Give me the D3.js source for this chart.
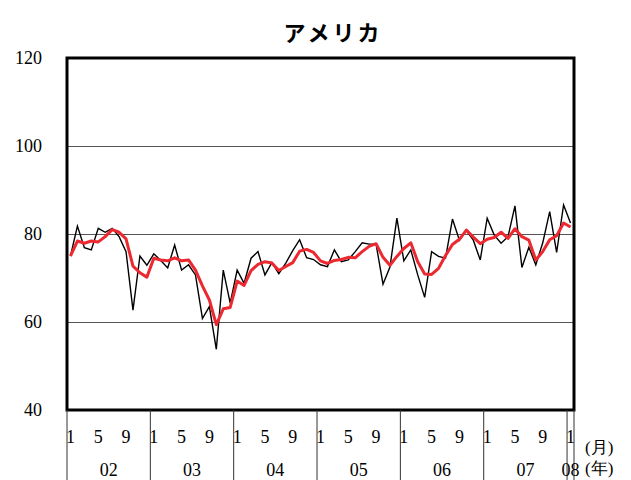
<!DOCTYPE html>
<html>
<head>
<meta charset="utf-8">
<script src="https://cdn.jsdelivr.net/npm/d3@7"></script>
<style>
  body { margin: 0; background: #fff; }
  svg { display: block; }
  .serif { font-family: "Liberation Serif", "DejaVu Serif", serif; }
</style>
</head>
<body>
<svg width="631" height="480"></svg>
<script>
// monthly index, Jan 2002 - Jan 2008
var years = ['02', '03', '04', '05', '06', '07', '08'];
var monthTicks = [1, 5, 9];
var yTicks = [40, 60, 80, 100, 120];

var monthly = [
  75.0, 81.8, 76.9, 76.4, 81.3, 80.4, 81.3, 79.4, 76.0, 62.7, 75.0, 72.9,
  75.5, 74.0, 72.3, 77.5, 71.8, 73.0, 70.7, 60.8, 63.5, 53.8, 71.8, 64.3,
  71.8, 68.8, 74.5, 76.0, 70.7, 73.5, 71.0, 73.4, 76.2, 78.7, 74.6, 74.2,
  73.0, 72.6, 76.4, 73.7, 74.1, 76.0, 78.0, 77.7, 77.7, 68.6, 72.5, 83.6,
  73.9, 76.4, 70.7, 65.6, 76.0, 74.9, 74.5, 83.4, 78.6, 80.8, 78.6, 74.1,
  83.6, 79.8, 77.9, 79.4, 86.4, 72.4, 77.0, 73.0, 78.0, 85.1, 75.8, 86.6,
  82.5
];

// 3 month average (red)
var avg3 = [
  75.0, 78.4, 77.9, 78.4, 78.2, 79.4, 81.0, 80.4, 78.9, 72.7, 71.2, 70.2,
  74.5, 74.1, 73.9, 74.6, 73.9, 74.1, 71.8, 68.2, 65.0, 59.4, 63.0, 63.3,
  69.3, 68.3, 71.7, 73.1, 73.7, 73.4, 71.7, 72.6, 73.5, 76.1, 76.5, 75.8,
  73.9, 73.3, 74.0, 74.2, 74.7, 74.6, 76.0, 77.2, 77.8, 74.7, 72.9, 74.9,
  76.7, 78.0, 73.7, 70.9, 70.8, 72.2, 75.1, 77.6, 78.8, 80.9, 79.3, 77.8,
  78.8, 79.2, 80.4, 79.0, 81.2, 79.4, 78.6, 74.1, 76.0, 78.7, 79.6, 82.5,
  81.6
];

var svg = d3.select('svg');
var plotL = 67, plotR = 574, plotT = 58, plotB = 410;

var x = d3.scaleLinear().domain([0, monthly.length]).range([plotL, plotR]);
var y = d3.scaleLinear().domain([40, 120]).range([plotB, plotT]);

// title
svg.append('text')
    .attr('x', 333).attr('y', 41)
    .attr('text-anchor', 'middle')
    .style('font-family', '"Noto Sans CJK JP", sans-serif')
    .style('font-weight', 'bold')
    .style('font-size', '22px')
    .style('letter-spacing', '3px')
    .text('アメリカ');

// gridlines
svg.append('g')
    .attr('transform', 'translate(' + plotL + ',0)')
    .call(d3.axisLeft(y).tickValues([60, 80, 100]).tickSize(-(plotR - plotL)).tickFormat(''))
    .call(function (g) {
        g.select('.domain').remove();
        g.selectAll('line').attr('stroke', '#555').attr('stroke-width', 1);
    });

// y labels
svg.append('g')
    .attr('transform', 'translate(' + plotL + ',0)')
    .call(d3.axisLeft(y).tickValues(yTicks).tickSize(0).tickPadding(25))
    .call(function (g) {
        g.select('.domain').remove();
        g.selectAll('text')
            .attr('class', 'serif')
            .style('font-size', '18px')
            .attr('fill', '#000');
    });

// lines
var line = function (arr) {
    return d3.line()
        .x(function (d, i) { return x(i + 0.5); })
        .y(function (d) { return y(d); })(arr);
};

svg.append('path')
    .attr('d', line(monthly))
    .attr('fill', 'none')
    .attr('stroke', '#000')
    .attr('stroke-width', 1.4)
    .attr('stroke-linejoin', 'miter');

svg.append('path')
    .attr('d', line(avg3))
    .attr('fill', 'none')
    .attr('stroke', '#ec2830')
    .attr('stroke-width', 3)
    .attr('stroke-linejoin', 'round');

// frame
svg.append('rect')
    .attr('x', plotL).attr('y', plotT)
    .attr('width', plotR - plotL).attr('height', plotB - plotT)
    .attr('fill', 'none')
    .attr('stroke', '#000')
    .attr('stroke-width', 3);

// year separators below plot
var seps = years.map(function (d, i) { return i * 12; }).concat([monthly.length]);
svg.selectAll('.sep')
    .data(seps)
    .enter()
    .append('line')
    .attr('class', 'sep')
    .attr('x1', function (d) { return x(d); })
    .attr('x2', function (d) { return x(d); })
    .attr('y1', plotB)
    .attr('y2', 480)
    .attr('stroke', '#333')
    .attr('stroke-width', 1);

// month labels
var monthIdx = [];
monthly.forEach(function (d, i) {
    if (monthTicks.indexOf(i % 12 + 1) >= 0) monthIdx.push(i);
});
svg.selectAll('.mlab')
    .data(monthIdx)
    .enter()
    .append('text')
    .attr('class', 'serif mlab')
    .attr('x', function (d) { return x(d + 0.5); })
    .attr('y', 443)
    .attr('text-anchor', 'middle')
    .style('font-size', '18px')
    .text(function (d) { return d % 12 + 1; });

// year labels
svg.selectAll('.ylab')
    .data(years)
    .enter()
    .append('text')
    .attr('class', 'serif ylab')
    .attr('x', function (d, i) {
        var end = Math.min((i + 1) * 12, monthly.length);
        return (x(i * 12) + x(end)) / 2;
    })
    .attr('y', 476)
    .attr('text-anchor', 'middle')
    .style('font-size', '18px')
    .text(function (d) { return d; });

svg.append('text')
    .attr('class', 'serif')
    .attr('x', 585).attr('y', 453)
    .style('font-size', '17px')
    .text('(月)');
svg.append('text')
    .attr('class', 'serif')
    .attr('x', 585).attr('y', 474)
    .style('font-size', '17px')
    .text('(年)');
</script>
</body>
</html>
